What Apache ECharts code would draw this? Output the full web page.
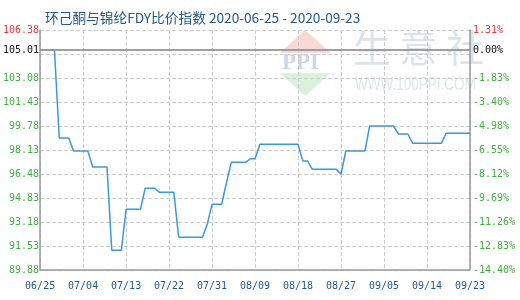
<!DOCTYPE html>
<html>
<head>
<meta charset="utf-8">
<script src="https://cdn.jsdelivr.net/npm/echarts@6/dist/echarts.min.js"></script>
<style>
  html, body { margin: 0; padding: 0; background: #fff; }
  #chart { width: 520px; height: 300px; }
</style>
</head>
<body>
<div id="chart"></div>
<script>
// Daily ratio index, starting 2020-06-25 (91 days)
var startDate = '2020-06-25';
var indexValues = [
  105.01, 105.01, 105.01, 105.01, 98.95, 98.95, 98.95, 98.06, 98.06, 98.06,
  98.06, 96.96, 96.96, 96.96, 96.96, 91.23, 91.23, 91.23, 94.05, 94.05,
  94.05, 94.05, 95.50, 95.50, 95.50, 95.22, 95.22, 95.22, 95.22, 92.13,
  92.13, 92.13, 92.13, 92.13, 92.13, 93.04, 94.40, 94.40, 94.40, 95.86,
  97.28, 97.28, 97.28, 97.28, 97.53, 97.53, 98.52, 98.52, 98.52, 98.52,
  98.52, 98.52, 98.52, 98.52, 98.52, 97.37, 97.37, 96.80, 96.80, 96.80,
  96.80, 96.80, 96.80, 96.48, 98.06, 98.06, 98.06, 98.06, 98.06, 99.78,
  99.78, 99.78, 99.78, 99.78, 99.78, 99.23, 99.23, 99.23, 98.59, 98.59,
  98.59, 98.59, 98.59, 98.59, 98.59, 99.28, 99.28, 99.28, 99.28, 99.28,
  99.28
];
var baseValue = 105.01;
var baseLabelLeft = '105.01';
var baseLabelRight = '0.00%';

// Tick labels, bottom to top (the slot just below the base line stays blank)
var leftTickLabels = ['89.88', '91.53', '93.18', '94.83', '96.48', '98.13',
  '99.78', '101.43', '103.08', '', '106.38'];
var rightTickLabels = ['-14.40%', '-12.83%', '-11.26%', '-9.69%', '-8.12%',
  '-6.55%', '-4.98%', '-3.40%', '-1.83%', '', '1.31%'];
var yMin = 89.88;
var yMax = 106.38;

var titleText = '环己酮与锦纶FDY比价指数 2020-06-25 - 2020-09-23';

// Build MM/DD category labels for each day
var dates = [];
(function () {
  var d = new Date(startDate + 'T00:00:00Z');
  for (var i = 0; i < indexValues.length; i++) {
    var mm = String(d.getUTCMonth() + 1).padStart(2, '0');
    var dd = String(d.getUTCDate()).padStart(2, '0');
    dates.push(mm + '/' + dd);
    d.setUTCDate(d.getUTCDate() + 1);
  }
})();

var RED = '#e8383d';
var GREEN = '#3fb13f';
var BLUE_TXT = '#1c5a8c';
var MONO = 'DejaVu Sans Mono';
var lastTick = leftTickLabels.length - 1;

function tickColor(idx) {
  if (idx === lastTick) return RED;
  return GREEN;
}

var chart = echarts.init(document.getElementById('chart'), null, { renderer: 'canvas' });

chart.setOption({
  animation: false,
  backgroundColor: '#fff',
  title: {
    text: titleText,
    left: 40,
    top: 6,
    textStyle: {
      fontSize: 13.7,
      fontWeight: 'normal',
      color: '#235a8a',
      fontFamily: 'Noto Sans CJK SC'
    }
  },
  grid: { left: 40, right: 50, top: 30, bottom: 30 },
  graphic: [
    // faint site watermark
    { type: 'polygon', z: -10, silent: true,
      shape: { points: [[305, 30], [331, 53], [280, 53]] },
      style: { fill: 'rgba(240,170,160,0.45)' } },
    { type: 'polygon', z: -10, silent: true,
      shape: { points: [[280, 73], [331, 73], [305, 96]] },
      style: { fill: 'rgba(170,225,180,0.45)' } },
    { type: 'text', z: -10, silent: true, left: 282, top: 52,
      style: { text: 'PPI', font: 'bold 23px "Liberation Serif"', fill: 'rgba(185,200,225,0.7)' } },
    { type: 'text', z: -10, silent: true, left: 353, top: 29,
      style: { text: '生 意 社', font: '38px "Noto Sans CJK SC"', fill: 'rgba(205,215,230,0.7)' } },
    { type: 'text', z: -10, silent: true, x: 355, y: 76, scaleX: 0.75,
      style: { text: 'WWW.100PPI.COM', font: '18px "Liberation Sans"',
        verticalAlign: 'top', fill: 'rgba(210,218,230,0.7)' } }
  ],
  xAxis: {
    type: 'category',
    data: dates,
    boundaryGap: false,
    axisLine: { lineStyle: { color: '#999', width: 1.5 } },
    axisTick: { show: false },
    axisLabel: {
      interval: 8,
      margin: 11,
      color: BLUE_TXT,
      fontFamily: MONO,
      fontSize: 10
    },
    splitLine: {
      show: true,
      interval: 8,
      lineStyle: { type: 'dashed', color: '#ccc' }
    }
  },
  yAxis: [
    {
      // data axis
      type: 'value',
      min: yMin,
      max: yMax,
      position: 'left',
      axisLine: { show: true, lineStyle: { color: '#999', width: 1.5 } },
      axisTick: { show: false },
      axisLabel: { show: false },
      splitLine: { show: false }
    },
    {
      // right-hand percent labels and the dashed grid
      type: 'value',
      min: 0,
      max: lastTick,
      interval: 1,
      position: 'right',
      axisLine: { show: true, lineStyle: { color: '#999', width: 1.5 } },
      axisTick: { show: false },
      axisLabel: {
        margin: 3,
        fontFamily: MONO,
        fontSize: 10,
        formatter: function (v) { return rightTickLabels[Math.round(v)]; },
        color: function (v) { return tickColor(Math.round(v)); }
      },
      splitLine: { show: true, lineStyle: { type: 'dashed', color: '#ccc' } }
    },
    {
      // left-hand index labels
      type: 'value',
      min: 0,
      max: lastTick,
      interval: 1,
      position: 'left',
      axisLine: { show: false },
      axisTick: { show: false },
      axisLabel: {
        margin: 1,
        fontFamily: MONO,
        fontSize: 10,
        formatter: function (v) { return leftTickLabels[Math.round(v)]; },
        color: function (v) { return tickColor(Math.round(v)); }
      },
      splitLine: { show: false }
    }
  ],
  series: [
    {
      type: 'line',
      yAxisIndex: 0,
      data: indexValues,
      showSymbol: false,
      symbol: 'none',
      lineStyle: { color: '#3a9ad9', width: 1.5 },
      markLine: {
        silent: true,
        symbol: 'none',
        lineStyle: { type: 'solid', color: '#999', width: 1.5 },
        emphasis: { disabled: true },
        data: [
          { yAxis: baseValue,
            label: { position: 'start', distance: 1, formatter: baseLabelLeft,
              color: '#111', fontFamily: MONO, fontSize: 10 } },
          { yAxis: baseValue,
            label: { position: 'end', distance: 3, formatter: baseLabelRight,
              color: '#111', fontFamily: MONO, fontSize: 10 } }
        ]
      }
    }
  ]
});
</script>
</body>
</html>
